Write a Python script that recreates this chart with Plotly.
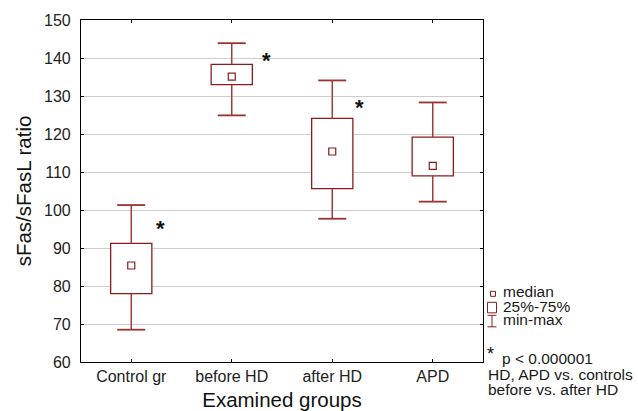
import plotly.graph_objects as go

# ---- data ----
groups = ["Control gr", "before HD", "after HD", "APD"]
mins = [68.5, 124.9, 97.7, 102.2]
q1s = [78.0, 133.0, 105.6, 109.0]
medians = [85.4, 135.1, 115.4, 111.6]
q3s = [91.2, 138.3, 124.1, 119.2]
maxs = [101.3, 143.9, 134.1, 128.3]
# significance stars: (group index offset, y value)
star_x = [0.29, 1.35, 2.27]
star_y = [95.8, 140.1, 127.8]
y_ticks = list(range(60, 151, 10))

RED = "#8b1c1c"
WHISK = "#9a3232"
FONT = "Liberation Sans, Arial, Helvetica, sans-serif"
W, H = 638, 411
L, R, T, B = 81, 155, 19.5, 49.3
PW, PH = W - L - R, H - T - B

xs = list(range(len(groups)))

fig = go.Figure()

# boxes (25%-75%)
fig.add_trace(go.Bar(
    x=xs, y=[b - a for a, b in zip(q1s, q3s)], base=q1s, width=0.41,
    marker=dict(color="white", line=dict(color=RED, width=1.3)),
    showlegend=False, hoverinfo="skip"))

# whiskers
wx, wy = [], []
for i in xs:
    wx += [i, i, None, i, i, None]
    wy += [q3s[i], maxs[i], None, q1s[i], mins[i], None]
fig.add_trace(go.Scatter(x=wx, y=wy, mode="lines",
                         line=dict(color=WHISK, width=1.4),
                         showlegend=False, hoverinfo="skip"))
# whisker caps
fig.add_trace(go.Scatter(x=xs + xs, y=maxs + mins, mode="markers",
                         marker=dict(symbol="line-ew", size=20,
                                     line=dict(color=WHISK, width=1.8)),
                         showlegend=False, hoverinfo="skip"))
# medians
fig.add_trace(go.Scatter(x=xs, y=medians, mode="markers",
                         marker=dict(symbol="square-open", size=7, color=RED,
                                     line=dict(color=RED, width=1.2)),
                         showlegend=False, hoverinfo="skip"))

# stars
for sx, sy in zip(star_x, star_y):
    fig.add_annotation(x=sx, y=sy, xref="x", yref="y", text="<b>*</b>",
                       showarrow=False, yshift=-3,
                       font=dict(family=FONT, size=22, color="#111"))


def px(xp):
    return (xp - L) / PW


def py(yp):
    return (H - B - yp) / PH


# legend key icons
shape_line = dict(color=RED, width=1)
fig.add_shape(type="rect", xref="paper", yref="paper",
              x0=px(490.5), x1=px(495.5), y0=py(296), y1=py(291),
              line=shape_line)
fig.add_shape(type="rect", xref="paper", yref="paper",
              x0=px(487.5), x1=px(496.5), y0=py(312.5), y1=py(302),
              line=shape_line)
fig.add_shape(type="line", xref="paper", yref="paper",
              x0=px(492), x1=px(492), y0=py(326.5), y1=py(315), line=shape_line)
fig.add_shape(type="line", xref="paper", yref="paper",
              x0=px(487.5), x1=px(496.5), y0=py(315), y1=py(315), line=shape_line)
fig.add_shape(type="line", xref="paper", yref="paper",
              x0=px(487.5), x1=px(496.5), y0=py(326.5), y1=py(326.5), line=shape_line)

legend_lines = [("median", 502, 297.3), ("25%-75%", 502, 311.7), ("min-max", 502, 325.5),
                ("p < 0.000001", 500.5, 364.3), ("HD, APD vs. controls", 486.5, 380),
                ("before vs. after HD", 486.5, 395)]
for txt, lx, base in legend_lines:
    fig.add_annotation(x=px(lx), y=py(base + 3.5), xref="paper", yref="paper",
                       text=txt, showarrow=False, xanchor="left", yanchor="bottom",
                       height=14, valign="bottom", borderpad=0,
                       font=dict(family=FONT, size=15.5, color="#1a1a1a"))
fig.add_annotation(x=px(486), y=py(343), xref="paper", yref="paper", text="*",
                   showarrow=False, xanchor="left", yanchor="top", borderpad=0,
                   font=dict(family=FONT, size=18, color="#111"))

axis_common = dict(showline=True, linecolor="black", linewidth=1.2, mirror="ticks",
                   ticks="inside", ticklen=3, tickcolor="black",
                   tickfont=dict(family=FONT, size=16, color="#222"))

fig.update_layout(
    width=W, height=H,
    margin=dict(l=L, r=R, t=T, b=B, autoexpand=False),
    paper_bgcolor="white", plot_bgcolor="white",
    showlegend=False,
    xaxis=dict(range=[-0.5, 3.5], tickvals=xs, ticktext=groups, showgrid=False,
               zeroline=False,
               title=dict(text="Examined groups", standoff=8,
                          font=dict(family=FONT, size=20.5, color="#111")),
               **axis_common),
    yaxis=dict(range=[60, 150], tickvals=y_ticks, showgrid=True,
               gridcolor="#cccccc", gridwidth=1, zeroline=False,
               ticklabelstandoff=6,
               title=dict(text="sFas/sFasL ratio", standoff=6,
                          font=dict(family=FONT, size=20.5, color="#111")),
               **axis_common),
)

fig.write_html("out.html")
